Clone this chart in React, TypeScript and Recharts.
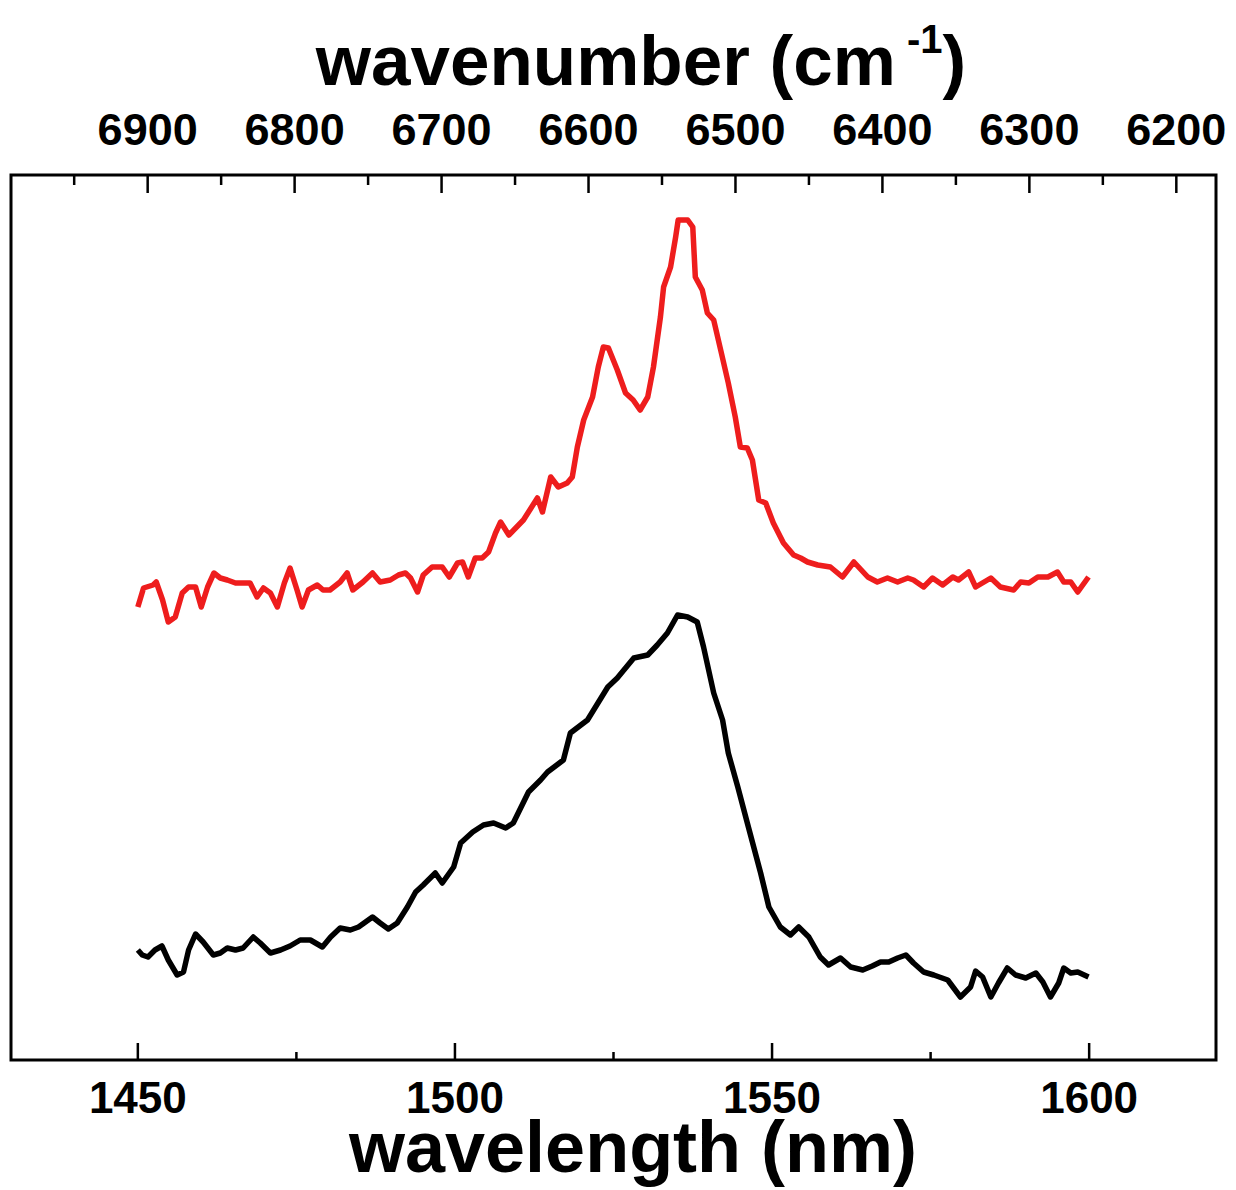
import React from 'react';
import { LineChart, Line, XAxis, YAxis, ReferenceArea } from 'recharts';

// red spectrum (upper trace)
const redWavelength = [
  1450.0, 1450.9, 1452.4, 1452.9, 1453.9, 1454.8, 1455.9, 1457.0, 1458.0, 1459.1,
  1460.0, 1461.0, 1462.0, 1463.0, 1464.1, 1465.4, 1466.5, 1467.7, 1468.8, 1469.8,
  1470.9, 1472.0, 1473.1, 1474.0, 1475.1, 1475.9, 1476.9, 1478.3, 1479.2, 1480.3,
  1481.9, 1483.0, 1483.9, 1485.5, 1487.0, 1488.2, 1489.8, 1491.1, 1492.2, 1493.0,
  1494.1, 1495.0, 1496.4, 1498.0, 1499.1, 1500.4, 1501.2, 1502.1, 1503.2, 1504.3,
  1505.3, 1506.4, 1507.2, 1508.5, 1510.8, 1513.0, 1513.8, 1515.1, 1516.3, 1517.7,
  1518.5, 1519.3, 1520.3, 1521.7, 1522.6, 1523.4, 1524.2, 1525.6, 1526.9, 1528.1,
  1529.2, 1530.4, 1531.3, 1532.4, 1532.9, 1534.0, 1534.8, 1535.2, 1536.7, 1537.5,
  1537.9, 1539.0, 1539.8, 1540.8, 1541.9, 1543.1, 1544.2, 1545.0, 1546.1, 1546.9,
  1547.9, 1549.0, 1550.2, 1551.8, 1553.4, 1554.5, 1555.6, 1557.2, 1559.2, 1561.1,
  1562.9, 1565.1, 1566.6, 1568.2, 1569.8, 1571.4, 1572.3, 1573.9, 1575.3, 1576.9,
  1578.5, 1579.4, 1581.0, 1582.1, 1584.5, 1586.0, 1588.1, 1589.2, 1590.5, 1591.9,
  1593.5, 1595.0, 1596.0, 1597.1, 1598.2, 1599.9,
];
const redIntensity = [
  45.3, 47.2, 47.5, 47.8, 46.0, 43.8, 44.3, 46.7, 47.3, 47.3,
  45.3, 47.3, 48.7, 48.2, 48.0, 47.7, 47.7, 47.7, 46.3, 47.2,
  46.7, 45.3, 47.7, 49.2, 47.0, 45.3, 47.0, 47.5, 47.0, 47.0,
  47.8, 48.7, 47.0, 47.8, 48.7, 47.8, 48.0, 48.5, 48.7, 48.2,
  46.8, 48.5, 49.3, 49.3, 48.3, 49.7, 49.8, 48.3, 50.2, 50.2,
  50.8, 52.7, 53.8, 52.5, 54.0, 56.2, 54.8, 58.3, 57.3, 57.7,
  58.3, 61.3, 64.0, 66.3, 69.3, 71.3, 71.2, 69.0, 66.7, 66.0,
  65.0, 66.3, 69.3, 74.3, 77.3, 79.3, 82.3, 84.0, 84.0, 83.3,
  78.3, 77.0, 74.7, 74.0, 71.0, 67.7, 64.3, 61.3, 61.2, 60.0,
  56.0, 55.7, 53.7, 51.7, 50.5, 50.2, 49.8, 49.5, 49.3, 48.3,
  49.8, 48.3, 47.8, 48.2, 47.8, 48.2, 48.0, 47.3, 48.2, 47.5,
  48.3, 48.0, 48.8, 47.3, 48.2, 47.3, 47.0, 47.8, 47.7, 48.3,
  48.3, 48.8, 47.8, 47.8, 46.8, 48.3,
];

// black spectrum (lower trace)
const blackWavelength = [
  1450.0, 1450.7, 1451.6, 1452.7, 1453.8, 1454.8, 1456.2, 1457.2, 1458.0, 1459.1,
  1460.3, 1461.9, 1463.0, 1464.1, 1465.4, 1466.6, 1468.2, 1469.3, 1470.9, 1472.5,
  1474.0, 1475.6, 1477.2, 1479.1, 1480.4, 1481.9, 1483.5, 1484.8, 1487.0, 1488.2,
  1489.5, 1490.9, 1492.5, 1493.8, 1495.0, 1496.9, 1498.0, 1499.8, 1500.9, 1502.8,
  1504.5, 1506.1, 1508.0, 1509.2, 1511.6, 1513.5, 1514.6, 1517.1, 1518.2, 1520.9,
  1524.1, 1525.6, 1528.2, 1530.4, 1531.9, 1533.5, 1535.1, 1536.7, 1538.2, 1539.2,
  1540.8, 1542.2, 1543.1, 1544.6, 1546.1, 1548.2, 1549.5, 1551.3, 1552.9, 1554.2,
  1555.8, 1557.6, 1558.9, 1560.8, 1562.4, 1564.3, 1565.8, 1567.1, 1568.4, 1569.8,
  1571.1, 1572.3, 1573.9, 1575.5, 1577.7, 1579.7, 1581.3, 1582.1, 1583.2, 1584.5,
  1585.7, 1587.1, 1588.4, 1590.0, 1591.6, 1592.7, 1593.9, 1595.2, 1596.0, 1597.1,
  1598.2, 1599.9,
];
const blackIntensity = [
  11.0, 10.5, 10.3, 11.0, 11.4, 10.0, 8.5, 8.8, 11.0, 12.6,
  11.8, 10.5, 10.7, 11.2, 11.0, 11.2, 12.3, 11.7, 10.7, 11.0,
  11.4, 12.0, 12.0, 11.3, 12.3, 13.2, 13.0, 13.3, 14.3, 13.7,
  13.1, 13.7, 15.3, 16.8, 17.5, 18.7, 17.7, 19.3, 21.7, 22.8,
  23.5, 23.7, 23.2, 23.7, 26.8, 28.0, 28.8, 30.0, 32.7, 34.0,
  37.3, 38.2, 40.2, 40.5, 41.5, 42.7, 44.5, 44.3, 43.8, 41.3,
  36.7, 34.0, 30.7, 27.3, 23.7, 18.7, 15.3, 13.3, 12.5, 13.3,
  12.3, 10.3, 9.5, 10.2, 9.3, 9.0, 9.4, 9.8, 9.8, 10.2,
  10.5, 9.7, 8.8, 8.5, 8.0, 6.3, 7.3, 8.9, 8.3, 6.3,
  7.7, 9.2, 8.5, 8.2, 8.7, 7.8, 6.3, 7.7, 9.2, 8.7,
  8.8, 8.3,
];

const wavelengthTicks = [1450, 1475, 1500, 1525, 1550, 1575, 1600];
const wavenumberTicks = [6950, 6900, 6850, 6800, 6750, 6700, 6650, 6600, 6550, 6500, 6450, 6400, 6350, 6300, 6250, 6200];

const redData = redWavelength.map((nm, i) => ({ nm, v: redIntensity[i] }));
const blackData = blackWavelength.map((nm, i) => ({ nm, v: blackIntensity[i] }));
// no values: only anchors the top (wavenumber) axis so that recharts draws its ticks
const wavenumberAnchor = wavenumberTicks.map((wn) => ({ wn }));

const FONT = '"Liberation Sans", Arial, Helvetica, sans-serif';
const PLOT_TOP = 175;
const PLOT_BOTTOM = 1060;

const renderBottomTick = (props: any) => {
  const { x, payload } = props;
  const y = PLOT_BOTTOM;
  const major = payload.value % 50 === 0;
  return (
    <g>
      <line x1={x} y1={y} x2={x} y2={y - (major ? 17 : 8)} stroke="#000" strokeWidth={2.5} />
      {major && (
        <text x={x} y={y + 53} textAnchor="middle" fontFamily={FONT} fontWeight="bold" fontSize={44} fill="#000">
          {payload.value}
        </text>
      )}
    </g>
  );
};

const renderTopTick = (props: any) => {
  const { x, payload } = props;
  const y = PLOT_TOP;
  const major = payload.value % 100 === 0;
  return (
    <g>
      <line x1={x} y1={y} x2={x} y2={y + (major ? 18 : 10)} stroke="#000" strokeWidth={2.5} />
      {major && (
        <text x={x} y={y - 30} textAnchor="middle" fontFamily={FONT} fontWeight="bold" fontSize={45} fill="#000">
          {payload.value}
        </text>
      )}
    </g>
  );
};

const renderTopTitle = () => (
  <text x={641} y={85} textAnchor="middle" fontFamily={FONT} fontWeight="bold" fontSize={71} fill="#000">
    wavenumber (cm
    <tspan dy={-32} fontSize={40}> -1</tspan>
    <tspan dy={32}>)</tspan>
  </text>
);

const renderBottomTitle = () => (
  <text x={633} y={1172} textAnchor="middle" fontFamily={FONT} fontWeight="bold" fontSize={72} fill="#000">
    wavelength (nm)
  </text>
);

export default function App() {
  return (
    <div style={{ position: 'absolute', left: 0, top: 0, width: 1236, height: 1190, background: '#fff' }}>
      <LineChart width={1236} height={1190} margin={{ top: 115, right: 20, bottom: 70, left: 11 }}>
        <XAxis
          xAxisId="bottom"
          dataKey="nm"
          type="number"
          domain={[1430, 1620]}
          allowDataOverflow
          ticks={wavelengthTicks}
          interval={0}
          height={60}
          tickSize={0}
          tickMargin={0}
          tickLine={false}
          axisLine={false}
          tick={renderBottomTick}
          label={renderBottomTitle}
        />
        <XAxis
          xAxisId="top"
          dataKey="wn"
          orientation="top"
          type="number"
          domain={[6173, 6993]}
          reversed
          allowDataOverflow
          ticks={wavenumberTicks}
          interval={0}
          height={60}
          tickSize={0}
          tickMargin={0}
          tickLine={false}
          axisLine={false}
          tick={renderTopTick}
          label={renderTopTitle}
        />
        <YAxis type="number" domain={[0, 88.5]} allowDataOverflow hide />
        <ReferenceArea xAxisId="bottom" x1={1430} x2={1620} y1={0} y2={88.5} fill="none" stroke="#000" strokeWidth={3} />
        <Line
          xAxisId="top"
          data={wavenumberAnchor}
          dataKey="v"
          stroke="none"
          dot={false}
          activeDot={false}
          isAnimationActive={false}
        />
        <Line
          xAxisId="bottom"
          data={redData}
          dataKey="v"
          type="linear"
          stroke="#ee1d1d"
          strokeWidth={5.5}
          strokeLinejoin="round"
          dot={false}
          isAnimationActive={false}
        />
        <Line
          xAxisId="bottom"
          data={blackData}
          dataKey="v"
          type="linear"
          stroke="#000"
          strokeWidth={5.5}
          strokeLinejoin="round"
          dot={false}
          isAnimationActive={false}
        />
      </LineChart>
    </div>
  );
}
